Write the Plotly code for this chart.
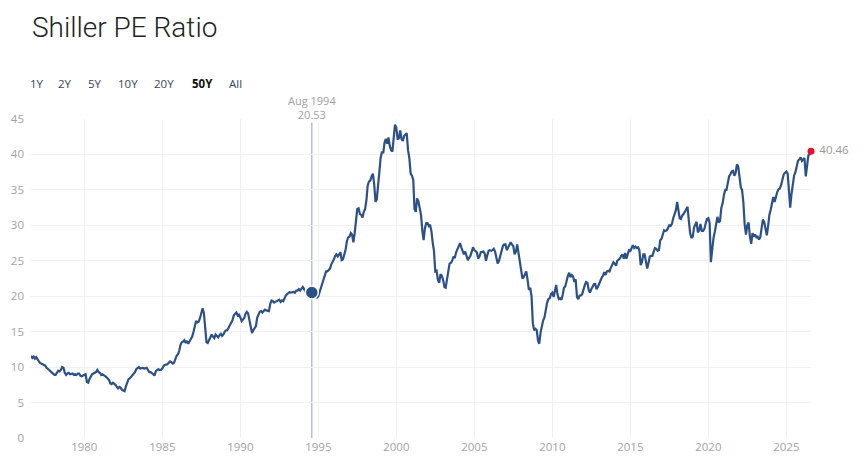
import pandas as pd
import plotly.graph_objs as go

# monthly Shiller PE, starting Aug 1976
start_month = "1976-08-01"
pe_values = [
    11.6, 11.3, 11.5, 11.2, 11.4,                                      # 1976 (Aug-Dec)
    11.0, 10.8, 10.6, 10.5, 10.5, 10.4, 10.2, 9.9, 9.8, 9.6, 9.4, 9.2,  # 1977
    9.0, 8.9, 8.9, 9.3, 9.5, 9.4, 9.6, 10.0, 9.9, 9.2, 8.9, 9.1,        # 1978
    9.2, 9.0, 9.1, 9.1, 8.9, 9.0, 8.9, 9.1, 9.1, 8.8, 8.7, 8.8,         # 1979
    8.9, 9.0, 7.9, 7.8, 8.3, 8.7, 9.0, 9.1, 9.2, 9.3, 9.6, 9.3,         # 1980
    9.2, 8.9, 9.0, 8.9, 8.7, 8.6, 8.4, 8.2, 7.7, 7.6, 7.8, 7.7,         # 1981
    7.5, 7.2, 7.0, 7.2, 7.1, 6.8, 6.7, 6.6, 7.3, 7.9, 8.3, 8.4,         # 1982
    8.6, 8.8, 9.0, 9.3, 9.7, 9.9, 10.0, 9.8, 9.9, 9.9, 9.8, 9.8,        # 1983
    9.9, 9.6, 9.3, 9.3, 9.2, 9.0, 8.8, 9.4, 9.6, 9.7, 9.6, 9.6,         # 1984
    9.8, 10.2, 10.3, 10.3, 10.4, 10.6, 10.8, 10.7, 10.5, 10.6, 11.2, 11.6,  # 1985
    11.8, 12.3, 13.1, 13.5, 13.6, 13.8, 13.4, 13.7, 13.3, 13.6, 13.9, 14.3,  # 1986
    15.0, 16.1, 16.5, 16.3, 16.4, 16.9, 17.6, 18.3, 17.6, 15.6, 13.5, 13.4,  # 1987
    13.9, 14.3, 14.6, 14.3, 14.1, 14.6, 14.4, 14.2, 14.5, 14.7, 14.4, 14.6,  # 1988
    15.0, 15.2, 15.2, 15.6, 16.0, 16.2, 16.6, 17.3, 17.6, 17.7, 17.3, 17.4,  # 1989
    17.0, 16.5, 16.7, 16.9, 17.5, 17.8, 17.6, 16.6, 15.5, 14.8, 15.2, 15.6,  # 1990
    15.8, 17.0, 17.5, 17.8, 17.9, 17.7, 17.9, 18.1, 18.0, 18.0, 17.9, 18.9,  # 1991
    19.4, 19.3, 19.1, 19.2, 19.3, 19.4, 19.5, 19.2, 19.4, 19.3, 19.8, 20.1,  # 1992
    20.3, 20.5, 20.6, 20.5, 20.6, 20.6, 20.5, 20.8, 20.8, 21.0, 20.8, 21.1,  # 1993
    21.3, 21.0, 20.6, 20.4, 20.6, 20.5, 20.4, 20.53, 20.5, 20.3, 19.9, 19.8,  # 1994
    20.0, 20.6, 21.2, 21.7, 22.3, 22.8, 23.5, 23.5, 23.8, 23.9, 24.5, 24.8,  # 1995
    25.2, 25.7, 25.9, 25.6, 26.0, 26.2, 25.1, 25.2, 25.9, 26.6, 27.8, 28.3,  # 1996
    28.4, 28.9, 28.7, 27.6, 28.9, 30.3, 32.3, 32.4, 31.6, 31.5, 31.1, 31.9,  # 1997
    32.3, 33.6, 35.6, 36.2, 36.3, 36.9, 37.3, 35.8, 33.3, 33.7, 36.1, 37.5,  # 1998
    39.6, 40.4, 40.2, 41.7, 42.2, 41.5, 42.4, 41.2, 40.6, 40.4, 42.5, 44.2,  # 1999
    43.8, 42.1, 42.3, 43.4, 42.2, 41.9, 42.6, 42.8, 43.0, 40.6, 39.5, 37.3,  # 2000
    37.0, 36.4, 32.3, 31.9, 33.8, 33.4, 32.4, 31.5, 29.3, 27.9, 29.6, 30.3,  # 2001
    30.3, 29.9, 30.1, 29.2, 27.6, 26.4, 23.5, 23.6, 22.3, 21.9, 23.1, 22.9,  # 2002
    22.3, 21.3, 21.2, 22.4, 23.7, 24.6, 24.7, 25.0, 25.6, 25.4, 26.2, 26.6,  # 2003
    27.1, 27.5, 26.9, 26.5, 25.9, 26.3, 25.5, 25.1, 25.4, 25.7, 26.3, 26.9,  # 2004
    26.5, 26.4, 26.2, 25.3, 25.6, 26.2, 26.3, 26.3, 26.0, 25.0, 25.8, 26.4,  # 2005
    26.5, 26.4, 26.5, 26.7, 26.3, 25.2, 24.6, 25.0, 25.8, 26.5, 27.1, 27.3,  # 2006
    27.3, 26.5, 26.8, 27.3, 27.6, 27.3, 27.1, 25.9, 26.3, 27.3, 26.0, 25.0,  # 2007
    24.0, 22.5, 22.7, 23.1, 23.5, 22.3, 20.9, 21.2, 20.0, 16.2, 15.2, 15.4,  # 2008
    15.2, 13.7, 13.3, 14.9, 16.0, 16.6, 17.0, 18.3, 19.1, 19.6, 19.7, 20.3,  # 2009
    20.5, 19.9, 21.0, 21.6, 20.3, 19.6, 19.7, 19.5, 20.2, 21.2, 21.4, 22.2,  # 2010
    22.9, 23.3, 22.7, 23.0, 22.8, 22.0, 22.4, 19.9, 19.6, 20.1, 20.1, 20.3,  # 2011
    21.1, 21.6, 22.0, 21.9, 20.9, 20.5, 21.0, 21.4, 21.7, 21.7, 21.0, 21.3,  # 2012
    21.8, 22.2, 22.6, 22.9, 23.4, 23.0, 23.5, 23.6, 23.5, 24.0, 24.5, 24.8,  # 2013
    24.6, 24.3, 25.0, 25.2, 25.3, 25.7, 25.9, 25.3, 26.1, 25.3, 26.0, 26.5,  # 2014
    26.4, 26.8, 27.2, 26.8, 27.0, 26.8, 26.9, 26.5, 24.4, 24.8, 25.9, 25.9,  # 2015
    24.7, 23.9, 24.7, 25.6, 25.7, 25.7, 26.3, 26.8, 26.7, 26.4, 26.5, 27.9,  # 2016
    28.1, 28.7, 29.3, 29.2, 29.3, 29.6, 30.0, 29.9, 30.2, 31.0, 31.6, 32.1,  # 2017
    33.3, 32.1, 31.0, 30.9, 31.4, 31.6, 32.0, 32.4, 32.6, 30.7, 28.9, 28.2,  # 2018
    28.4, 29.7, 30.1, 30.5, 29.0, 29.3, 30.2, 29.2, 29.2, 29.5, 30.3, 30.9,  # 2019
    31.0, 30.3, 24.8, 26.7, 28.2, 29.1, 30.0, 31.2, 30.4, 30.6, 32.5, 33.1,  # 2020
    34.3, 35.0, 35.0, 36.2, 36.9, 37.2, 37.6, 37.7, 37.0, 37.4, 38.6, 38.3,  # 2021
    36.9, 35.3, 35.0, 33.2, 30.1, 28.7, 30.0, 30.4, 28.4, 27.4, 28.9, 28.4,  # 2022
    28.7, 28.3, 28.4, 28.0, 28.3, 29.6, 30.8, 30.5, 29.4, 28.6, 29.9, 31.5,  # 2023
    32.2, 33.3, 34.0, 33.3, 34.2, 34.7, 35.1, 35.2, 35.7, 36.4, 37.2, 37.4,  # 2024
    37.6, 37.3, 35.0, 32.5, 34.4, 35.8, 37.0, 37.5, 38.2, 39.1, 39.3, 39.6,  # 2025
    39.1, 39.4, 39.5, 36.9, 38.8, 39.9, 40.0, 40.46,                      # 2026 (Jan-Aug)
]

hover_date = "1994-08-01"
hover_label = "Aug 1994"
hover_value = 20.53

range_buttons = ["1Y", "2Y", "5Y", "10Y", "20Y", "50Y", "All"]
button_x = [37, 65, 95, 128, 164, 202, 235]
active_button = "50Y"

dates = pd.date_range(start_month, periods=len(pe_values), freq="MS")

# page has an 8px body margin, so the figure is drawn 8px smaller
W, H = 856, 467
L, R, T, B = 23, 53, 111, 37
PW, PH = W - L - R, H - T - B


def px_to_paper(px, py):
    # px, py: position in the browser window
    return (px - 8 - L) / PW, (H - (py - 8) - B) / PH


line_color = "#2c5189"
grid_color = "#f1f1f3"
tick_color = "#a3a3a3"

fig = go.Figure()
fig.add_trace(go.Scatter(
    x=dates, y=pe_values, mode="lines",
    line=dict(color=line_color, width=2.2),
    hoverinfo="skip", showlegend=False,
))
# hovered point
fig.add_trace(go.Scatter(
    x=[hover_date], y=[hover_value], mode="markers",
    marker=dict(color=line_color, size=13, line=dict(color="white", width=1.5)),
    hoverinfo="skip", showlegend=False,
))
# latest point
fig.add_trace(go.Scatter(
    x=[dates[-1]], y=[pe_values[-1]], mode="markers+text",
    marker=dict(color="#e8112d", size=7),
    text=[" %.2f" % pe_values[-1]], textposition="middle right",
    textfont=dict(color="#9a9a9a", size=11.5, family="Open Sans"),
    hoverinfo="skip", showlegend=False, cliponaxis=False,
))

fig.add_shape(type="line", xref="x", yref="paper",
              x0=hover_date, x1=hover_date, y0=0, y1=1,
              line=dict(color="#a9b5c9", width=1.3), layer="below")

annotations = [
    dict(text=hover_label + "<br>" + "%.2f" % hover_value,
         x=hover_date, xref="x", y=px_to_paper(0, 107)[1], yref="paper",
         xanchor="center", yanchor="middle", showarrow=False,
         bgcolor="white", borderpad=0,
         font=dict(color="#a0a0a0", size=11, family="Open Sans")),
]

for name, bx in zip(range_buttons, button_x):
    bold = name == active_button
    ax, ay = px_to_paper(bx, 83)
    annotations.append(dict(
        text="<b>%s</b>" % name if bold else name,
        x=ax, y=ay, xref="paper", yref="paper", showarrow=False,
        xanchor="center", yanchor="middle",
        font=dict(color="#111111" if bold else "#33455e", size=11.5, family="Open Sans"),
    ))

tx, ty = px_to_paper(30, 28)
annotations.append(dict(
    text="Shiller PE Ratio", x=tx, y=ty, xref="paper", yref="paper", showarrow=False,
    xanchor="left", yanchor="middle",
    font=dict(family="Roboto", size=28, color="#222222", weight=300),
))

fig.update_layout(
    width=W, height=H,
    margin=dict(l=L, r=R, t=T, b=B),
    plot_bgcolor="white", paper_bgcolor="white",
    font=dict(family="Open Sans", color=tick_color, size=11.5),
    annotations=annotations,
    xaxis=dict(
        range=["1976-08-01", "2026-08-01"],
        tick0="1980-01-01", dtick="M60", tickformat="%Y",
        showgrid=True, gridcolor=grid_color, zeroline=False,
        showline=False, ticks="", tickfont=dict(color=tick_color, size=11.5),
    ),
    yaxis=dict(
        range=[0, 45], dtick=5, automargin=False,
        showgrid=True, gridcolor=grid_color, zeroline=False,
        showline=False, ticks="", ticklabelstandoff=6,
        tickfont=dict(color=tick_color, size=11.5),
    ),
)

fig.write_html("out.html")
